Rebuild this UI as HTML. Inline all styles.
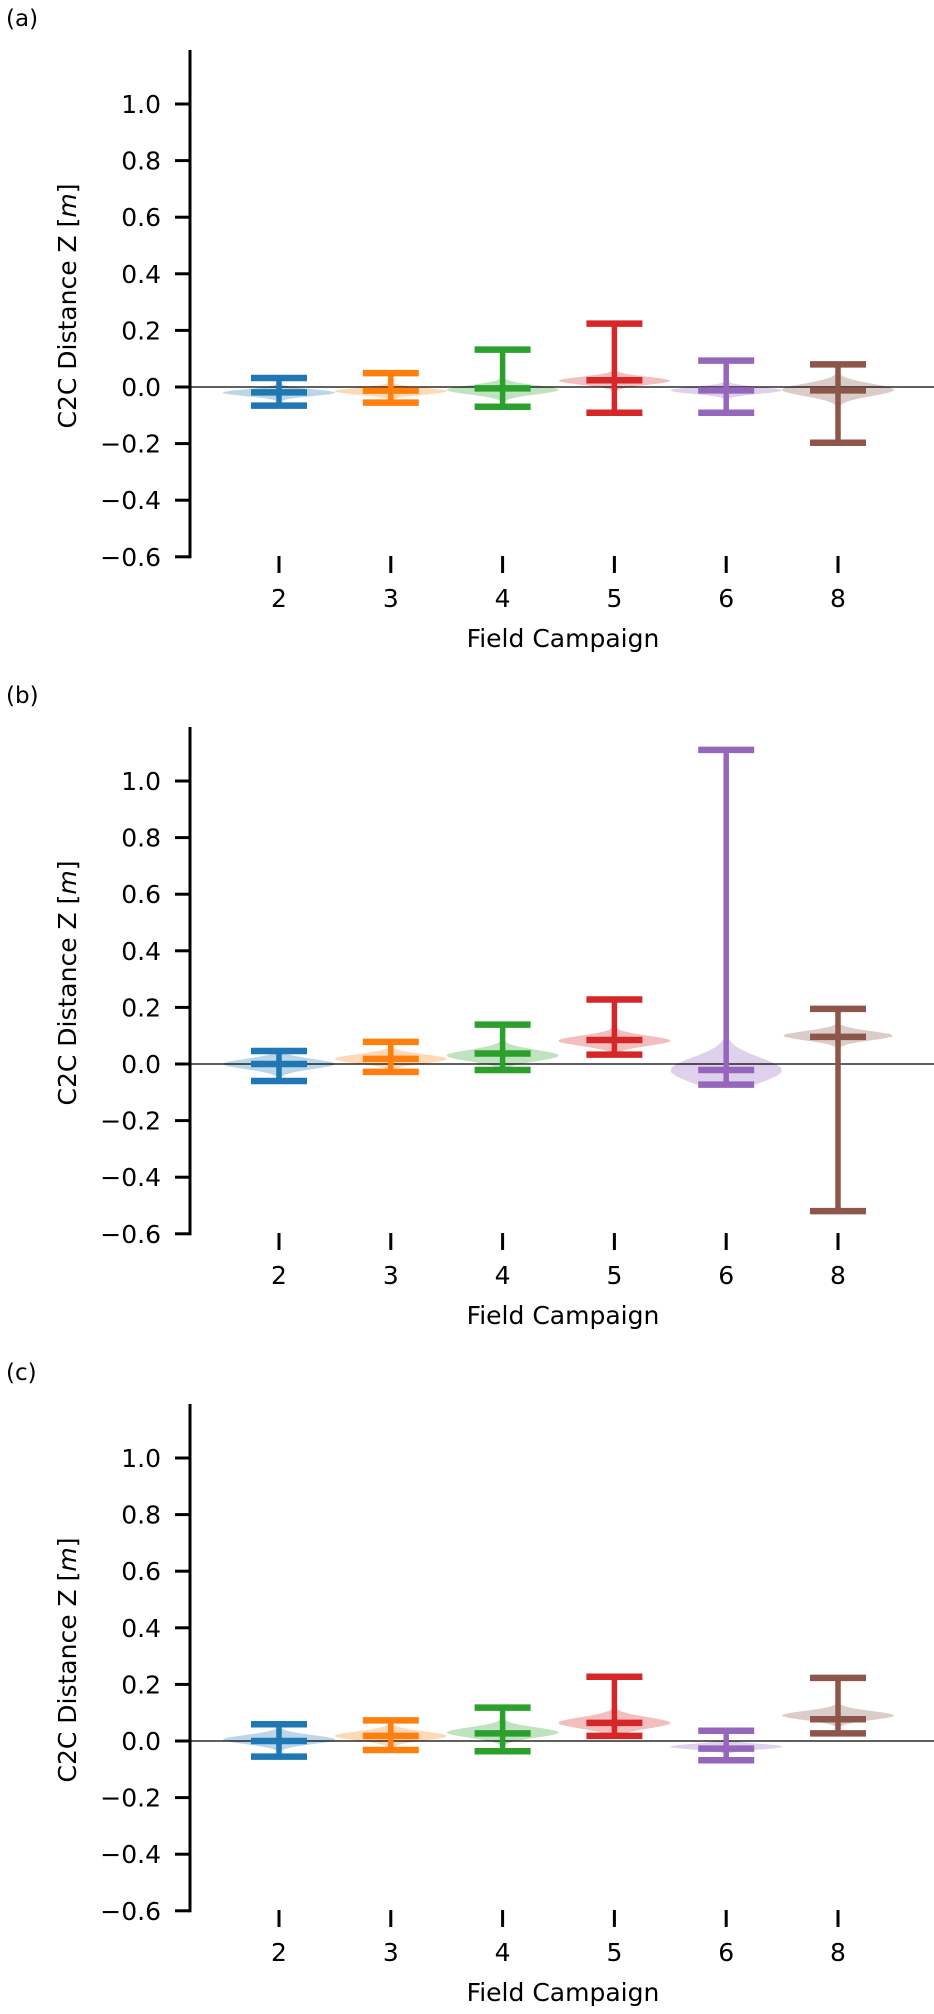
<!DOCTYPE html>
<html><head><meta charset="utf-8"><style>
html,body{margin:0;padding:0;background:#fff;}
svg{display:block;font-family:"DejaVu Sans","Liberation Sans",sans-serif;}
</style></head><body>
<svg id="fig" width="934" height="2014" viewBox="0 0 934 2014" xmlns="http://www.w3.org/2000/svg"></svg>
<script>
const categories = ["2","3","4","5","6","8"];
const colors = ["#1f77b4","#ff7f0e","#2ca02c","#d62728","#9467bd","#8c564b"];
const yTicks = [-0.6,-0.4,-0.2,0.0,0.2,0.4,0.6,0.8,1.0];
const yTickLabels = ["\u22120.6","\u22120.4","\u22120.2","0.0","0.2","0.4","0.6","0.8","1.0"];
const panelLabels = ["(a)","(b)","(c)"];
// panel a
const maxA = [0.032,0.049,0.132,0.224,0.093,0.080];
const minA = [-0.066,-0.055,-0.070,-0.091,-0.091,-0.197];
const midA = [-0.019,-0.013,-0.005,0.024,-0.012,-0.012];
const peakA = [-0.02,-0.015,-0.01,0.022,-0.012,-0.01];
const spreadA = [0.012,0.012,0.016,0.014,0.012,0.022];
// panel b
const maxB = [0.046,0.078,0.139,0.228,1.11,0.195];
const minB = [-0.060,-0.028,-0.021,0.033,-0.073,-0.520];
const midB = [0.000,0.018,0.037,0.085,-0.021,0.096];
const peakB = [0.0,0.018,0.03,0.082,-0.022,0.1];
const spreadB = [0.018,0.016,0.02,0.018,0.045,0.016];
// panel c
const maxC = [0.059,0.073,0.118,0.227,0.036,0.223];
const minC = [-0.055,-0.032,-0.036,0.018,-0.068,0.027];
const midC = [0.000,0.018,0.027,0.064,-0.027,0.077];
const peakC = [0.005,0.018,0.03,0.064,-0.02,0.09];
const spreadC = [0.016,0.016,0.018,0.02,0.01,0.016];

const panels = [
  {max:maxA,min:minA,mid:midA,peak:peakA,spread:spreadA},
  {max:maxB,min:minB,mid:midB,peak:peakB,spread:spreadB},
  {max:maxC,min:minC,mid:midC,peak:peakC,spread:spreadC}
];
const svg = document.getElementById('fig');
const NS = "http://www.w3.org/2000/svg";
function mk(tag, attrs, parent){
  const e = document.createElementNS(NS, tag);
  for (const k in attrs) e.setAttribute(k, attrs[k]);
  (parent||svg).appendChild(e);
  return e;
}
const PX_PER_UNIT = 283, X0 = 279, DX = 111.8, SPINE_X = 190, HALF = 56, CAP = 28;
panels.forEach((p, pi) => {
  const off = pi * 677;
  const zeroY = 387 + off;
  const yS = v => zeroY - v * PX_PER_UNIT;
  const xS = i => X0 + i * DX;
  const g = mk('g', {});
  
  
  const pl = mk('text', {x:6, y:26+off, 'font-size':23, fill:'#000'}, g);
  pl.textContent = panelLabels[pi];
  
  
  p.max.forEach((mx, i) => {
    const mn = p.min[i], c = p.peak[i], s = p.spread[i];
    const n = 80; let L = [], R = [];
    for (let k = 0; k <= n; k++) {
      const v = mn + (mx - mn) * k / n;
      const w = HALF * Math.exp(-0.5 * Math.pow((v - c) / s, 2));
      L.push((xS(i) - w).toFixed(2) + ',' + yS(v).toFixed(2));
      R.unshift((xS(i) + w).toFixed(2) + ',' + yS(v).toFixed(2));
    }
    const vp = mk('polygon', {points: L.concat(R).join(' '), fill: colors[i], 'fill-opacity': 0.3}, g);
    
    
  });
  const zl = mk('line', {x1:SPINE_X, x2:934, y1:zeroY, y2:zeroY, stroke:'#000', 'stroke-width':1.2}, g);
  
  
  p.max.forEach((mx, i) => {
    const mn = p.min[i], md = p.mid[i], x = xS(i), col = colors[i];
    const wg = mk('g', {stroke: col, 'stroke-width': 6.5}, g);
    
    
    mk('line', {x1:x, x2:x, y1:yS(mx), y2:yS(mn), 'stroke-width':5.5}, wg);
    [mx, mn, md].forEach(v => mk('line', {x1:x-CAP, x2:x+CAP, y1:yS(v), y2:yS(v)}, wg));
  });
  const topY = 50 + off, botY = yS(-0.6);
  const sp = mk('line', {x1:SPINE_X, x2:SPINE_X, y1:topY, y2:botY+1.5, stroke:'#000', 'stroke-width':3}, g);
  
  
  yTicks.forEach((t, k) => {
    mk('line', {x1:175, x2:SPINE_X, y1:yS(t), y2:yS(t), stroke:'#000', 'stroke-width':3}, g);
    const tl = mk('text', {x:161, y:yS(t)+9, 'font-size':25, 'text-anchor':'end', fill:'#000'}, g);
    tl.textContent = yTickLabels[k];
    
    
  });
  categories.forEach((c, i) => {
    mk('line', {x1:xS(i), x2:xS(i), y1:556+off, y2:573+off, stroke:'#000', 'stroke-width':3}, g);
    const tl = mk('text', {x:xS(i), y:607+off, 'font-size':25, 'text-anchor':'middle', fill:'#000'}, g);
    tl.textContent = c;
    
    
  });
  const xl = mk('text', {x:563, y:647+off, 'font-size':25, 'text-anchor':'middle', fill:'#000'}, g);
  xl.textContent = 'Field Campaign';
  
  
  const yl = mk('text', {x:0, y:0, 'font-size':25, 'text-anchor':'middle', fill:'#000', transform:'translate(76,'+(306+off)+') rotate(-90)'}, g);
  yl.innerHTML = 'C2C Distance Z [<tspan font-style="italic">m</tspan>]';
  
  
});
</script>
</body></html>
